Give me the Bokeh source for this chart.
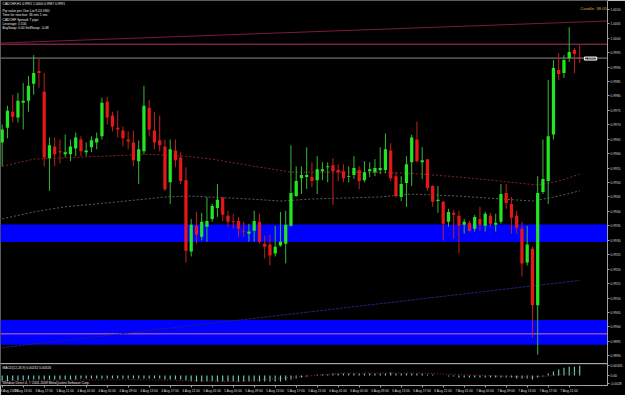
from bokeh.plotting import figure
from bokeh.models import (Range1d, FixedTicker, Span, BoxAnnotation, Label,
                          ColumnDataSource, PrintfTickFormatter)
from bokeh.embed import file_html
from bokeh.resources import INLINE

# ---------------- data (CADCHF, H1, 3 Aug 09:00 .. 7 Aug 23:00 2009) ----------------
opens = [0.99639, 0.99690, 0.99745, 0.99725, 0.99776, 0.99783, 0.99842, 0.99886, 0.99814, 0.99584,
         0.99625, 0.99608, 0.99598, 0.99598, 0.99618, 0.99649, 0.99605, 0.99622, 0.99639, 0.99660,
         0.99780, 0.99732, 0.99690, 0.99680, 0.99649, 0.99639, 0.99574, 0.99608, 0.99759, 0.99680,
         0.99646, 0.99625, 0.99501, 0.99611, 0.99587, 0.99508, 0.99261, 0.99350, 0.99312, 0.99347,
         0.99374, 0.99412, 0.99447, 0.99385, 0.99367, 0.99367, 0.99333, 0.99323, 0.99333, 0.99364,
         0.99288, 0.99285, 0.99254, 0.99282, 0.99288, 0.99350, 0.99453, 0.99515, 0.99519, 0.99519,
         0.99508, 0.99539, 0.99553, 0.99560, 0.99543, 0.99539, 0.99519, 0.99526, 0.99543, 0.99508,
         0.99539, 0.99536, 0.99543, 0.99543, 0.99611, 0.99522, 0.99450, 0.99498, 0.99570, 0.99649,
         0.99570, 0.99581, 0.99488, 0.99436, 0.99433, 0.99364, 0.99395, 0.99385, 0.99354, 0.99361,
         0.99340, 0.99374, 0.99350, 0.99385, 0.99354, 0.99364, 0.99464, 0.99426, 0.99385, 0.99340,
         0.99223, 0.99271, 0.99075, 0.99467, 0.99505, 0.99666, 0.99890, 0.99879, 0.99931, 0.99959,
         0.99934]
highs = [0.99701, 0.99766, 0.99804, 0.99811, 0.99845, 0.99869, 0.99941, 0.99931, 0.99879, 0.99656,
         0.99656, 0.99649, 0.99666, 0.99649, 0.99673, 0.99660, 0.99639, 0.99660, 0.99673, 0.99794,
         0.99797, 0.99745, 0.99749, 0.99694, 0.99677, 0.99680, 0.99646, 0.99835, 0.99787, 0.99745,
         0.99732, 0.99649, 0.99649, 0.99649, 0.99605, 0.99553, 0.99374, 0.99398, 0.99395, 0.99450,
         0.99426, 0.99495, 0.99450, 0.99402, 0.99392, 0.99381, 0.99364, 0.99357, 0.99402, 0.99392,
         0.99316, 0.99319, 0.99350, 0.99398, 0.99402, 0.99629, 0.99556, 0.99556, 0.99622, 0.99570,
         0.99591, 0.99570, 0.99570, 0.99584, 0.99563, 0.99563, 0.99556, 0.99591, 0.99556, 0.99574,
         0.99570, 0.99581, 0.99622, 0.99670, 0.99636, 0.99536, 0.99522, 0.99591, 0.99666, 0.99711,
         0.99622, 0.99581, 0.99491, 0.99488, 0.99436, 0.99409, 0.99405, 0.99402, 0.99374, 0.99367,
         0.99388, 0.99416, 0.99398, 0.99395, 0.99392, 0.99495, 0.99495, 0.99450, 0.99402, 0.99364,
         0.99350, 0.99278, 0.99522, 0.99649, 0.99855, 0.99924, 0.99948, 0.99941, 1.00038, 0.99966,
         0.99976]
lows = [0.99556, 0.99653, 0.99708, 0.99708, 0.99684, 0.99745, 0.99804, 0.99828, 0.99556, 0.99471,
        0.99556, 0.99567, 0.99587, 0.99574, 0.99591, 0.99591, 0.99591, 0.99605, 0.99615, 0.99649,
        0.99701, 0.99677, 0.99656, 0.99625, 0.99615, 0.99556, 0.99495, 0.99598, 0.99660, 0.99615,
        0.99608, 0.99471, 0.99426, 0.99553, 0.99495, 0.99223, 0.99244, 0.99288, 0.99299, 0.99295,
        0.99364, 0.99381, 0.99367, 0.99347, 0.99340, 0.99312, 0.99312, 0.99295, 0.99295, 0.99288,
        0.99237, 0.99213, 0.99244, 0.99278, 0.99220, 0.99347, 0.99450, 0.99460, 0.99477, 0.99484,
        0.99460, 0.99508, 0.99501, 0.99422, 0.99505, 0.99501, 0.99501, 0.99512, 0.99477, 0.99501,
        0.99519, 0.99522, 0.99529, 0.99532, 0.99505, 0.99447, 0.99436, 0.99416, 0.99488, 0.99570,
        0.99512, 0.99471, 0.99416, 0.99395, 0.99299, 0.99347, 0.99306, 0.99254, 0.99323, 0.99330,
        0.99330, 0.99333, 0.99330, 0.99347, 0.99330, 0.99357, 0.99409, 0.99323, 0.99323, 0.99175,
        0.99213, 0.98962, 0.98904, 0.99460, 0.99426, 0.99649, 0.99855, 0.99862, 0.99917, 0.99879,
        0.99914]
closes = [0.99684, 0.99749, 0.99728, 0.99783, 0.99783, 0.99835, 0.99879, 0.99879, 0.99587, 0.99629,
          0.99598, 0.99605, 0.99605, 0.99625, 0.99656, 0.99608, 0.99611, 0.99646, 0.99653, 0.99776,
          0.99725, 0.99694, 0.99684, 0.99653, 0.99642, 0.99577, 0.99615, 0.99766, 0.99684, 0.99639,
          0.99629, 0.99477, 0.99615, 0.99577, 0.99505, 0.99264, 0.99354, 0.99319, 0.99364, 0.99367,
          0.99419, 0.99440, 0.99388, 0.99364, 0.99364, 0.99340, 0.99330, 0.99330, 0.99367, 0.99295,
          0.99278, 0.99247, 0.99278, 0.99295, 0.99354, 0.99464, 0.99505, 0.99526, 0.99526, 0.99505,
          0.99546, 0.99546, 0.99556, 0.99539, 0.99536, 0.99515, 0.99522, 0.99550, 0.99505, 0.99536,
          0.99546, 0.99550, 0.99550, 0.99615, 0.99515, 0.99453, 0.99495, 0.99563, 0.99656, 0.99574,
          0.99577, 0.99481, 0.99433, 0.99440, 0.99357, 0.99398, 0.99388, 0.99350, 0.99364, 0.99333,
          0.99381, 0.99354, 0.99392, 0.99357, 0.99361, 0.99460, 0.99429, 0.99378, 0.99343, 0.99220,
          0.99285, 0.99075, 0.99464, 0.99512, 0.99660, 0.99897, 0.99876, 0.99924, 0.99952, 0.99945,
          0.99931]

# MACD(12,26,9) main values (histogram) per bar
macd = [-0.0018, -0.0018, -0.0015, -0.0015, -0.0015, -0.0012, -0.0012, -0.0012,
        -0.0012, -0.0012, -0.0012, -0.0012, -0.0012, -0.0012, -0.0012, -0.0009, -0.0009, -0.0009, -0.0009, -0.0009, -0.0009,
        -0.0009, -0.0009, -0.0009, -0.0009, -0.0009, -0.0009, -0.0009, -0.0009, -0.0009, -0.0009, -0.0012, -0.0012, -0.0012,
        -0.0012, -0.0015, -0.0018, -0.0018, -0.0018, -0.0018, -0.0018, -0.0018, -0.0018, -0.0018, -0.0018, -0.0018,
        -0.0018, -0.0018, -0.0018, -0.0018, -0.0018, -0.0018, -0.0018, -0.0018, -0.0015,
        -0.0012, -0.0009, -0.0006, -0.0003, 0.0000, 0.0003, 0.0003, 0.0003, 0.0006, 0.0006,
        0.0006, 0.0006, 0.0006, 0.0006, 0.0006, 0.0006, 0.0006, 0.0006, 0.0006, 0.0009, 0.0006,
        0.0006, 0.0006, 0.0006, 0.0006, 0.0006, 0.0003, 0.0003, 0.0000, 0.0000, -0.0003,
        -0.0003, -0.0006, -0.0006, -0.0006, -0.0006, -0.0006, -0.0006, -0.0006, -0.0006, -0.0006, -0.0006,
        -0.0006, -0.0009, -0.0009, -0.0009, -0.0012,
        -0.0006, -0.0003, 0.0006, 0.0012, 0.0018, 0.0024, 0.0027, 0.0027, 0.0030]
# MACD signal line (read at a few bars)
signal_x = [0, 25, 45, 57, 65, 80, 92, 101, 105, 110]
signal_y = [-0.0015, -0.0012, -0.0018, -0.0003, 0.00075, 0.00075, 0.0000, -0.00045, 0.0000, 0.0012]

# moving averages (dotted), read at a few bars
ma_fast_x = [0, 6, 19, 28, 35, 40, 48, 55, 68, 78, 87, 97, 102, 106, 110]
ma_fast_y = [0.99556, 0.99581, 0.99591, 0.99598, 0.99591, 0.99581, 0.99556, 0.99536, 0.99536,
             0.99532, 0.99519, 0.99501, 0.99491, 0.99505, 0.99529]
ma_slow_x = [0, 6, 12, 22, 31, 36, 47, 53, 59, 72, 78, 87, 95, 101, 106, 110]
ma_slow_y = [0.99374, 0.99398, 0.99416, 0.99433, 0.99450, 0.99453, 0.99443, 0.99436, 0.99443,
             0.99450, 0.99460, 0.99453, 0.99443, 0.99436, 0.99453, 0.99471]
ma_long_x = [0, 68, 110]
ma_long_y = [0.98928, 0.99072, 0.99161]

# trend line and horizontal levels
trend_x = [-0.3, 116.2]
trend_y = [0.99983, 1.00060]
level_top = 0.99979
level_low = 0.98976
zone_tops = [0.99355, 0.99024]
zone_bottoms = [0.99294, 0.98938]

price_ticks = [0.9890, 0.9895, 0.9900, 0.9905, 0.9910, 0.9915, 0.9920, 0.9925, 0.9930, 0.9935,
               0.9940, 0.9945, 0.9950, 0.9955, 0.9960, 0.9965, 0.9970, 0.9975, 0.9980, 0.9985,
               0.9990, 0.9995, 1.0000, 1.0005, 1.0010]
time_ticks = [0, 4, 8, 12, 16, 20, 24, 28, 32, 36, 40, 44, 48, 52, 56, 60, 64, 68, 72, 76,
              80, 84, 88, 92, 96, 100, 104, 108]
time_labels = ["3 Aug 2009", "3 Aug 13:00", "3 Aug 17:00", "3 Aug 21:00", "4 Aug 01:00", "4 Aug 05:00",
               "4 Aug 09:00", "4 Aug 13:00", "4 Aug 17:00", "4 Aug 21:00", "5 Aug 01:00", "5 Aug 05:00",
               "5 Aug 09:00", "5 Aug 13:00", "5 Aug 17:00", "5 Aug 21:00", "6 Aug 01:00", "6 Aug 05:00",
               "6 Aug 09:00", "6 Aug 13:00", "6 Aug 17:00", "6 Aug 21:00", "7 Aug 01:00", "7 Aug 05:00",
               "7 Aug 09:00", "7 Aug 13:00", "7 Aug 17:00", "7 Aug 21:00"]
macd_ticks = [0.0030, 0.0, -0.0024]
macd_tick_labels = ["0.00326", "0.00", "-0.0028"]

info_lines = ["CADCHF,H1  0.9992 1.0000 0.9987 0.9991",
              "Pip value per One Lot 9.24 USD",
              "Time for new bar: 36 min 1 sec",
              "CADCHF Spread: 7 pips",
              "Leverage: 1:100",
              "BuySwap: 0.00   SellSwap: -0.48"]

# ---------------- layout constants ----------------
W, H = 625, 395
FW, FH = 607, 388          # expected frame size
BAR_PX = 5.25              # pixels per bar
X0 = -1.7 / BAR_PX
X1 = X0 + FW / BAR_PX
PRICE_PER_PX = 0.0005 / 14.55
Y_TOP = 1.001304
MACD_PER_PX = 0.0003
MACD_ZERO_PX = 378

y_bottom = Y_TOP - FH * PRICE_PER_PX
p = figure(width=W, height=H, output_backend="svg", toolbar_location=None,
           x_range=Range1d(X0, X1), y_range=Range1d(y_bottom, Y_TOP),
           y_axis_location="right", background_fill_color="black",
           border_fill_color="black", min_border=0, outline_line_color="#5a5a5a")
p.extra_y_ranges = {"macd": Range1d(-(FH - MACD_ZERO_PX) * MACD_PER_PX, MACD_ZERO_PX * MACD_PER_PX)}
p.grid.visible = False

def macd_to_price(m):
    ypx = MACD_ZERO_PX - m / MACD_PER_PX
    return Y_TOP - ypx * PRICE_PER_PX

def px_to_price(ypx):
    return Y_TOP - ypx * PRICE_PER_PX

# axes
ya = p.yaxis[0]
mt_prices = [macd_to_price(m) for m in macd_ticks]
ya.ticker = FixedTicker(ticks=price_ticks + mt_prices)
ya.formatter = PrintfTickFormatter(format="%.4f")
ya.major_label_overrides = {mp: lbl for mp, lbl in zip(mt_prices, macd_tick_labels)}
ya.major_label_text_font_size = "3.3px"
ya.major_label_text_color = "#d8d8d8"
ya.major_label_text_font = "Liberation Sans"
ya.major_label_standoff = 1
ya.major_tick_out = 2
ya.major_tick_in = 0
ya.minor_tick_out = 0
ya.minor_tick_in = 0
ya.major_tick_line_color = "#a0a0a0"
ya.axis_line_color = "#a0a0a0"

xa = p.xaxis[0]
xa.ticker = FixedTicker(ticks=time_ticks)
xa.major_label_overrides = {t: l for t, l in zip(time_ticks, time_labels)}
xa.major_label_text_font_size = "3.3px"
xa.major_label_text_color = "#d8d8d8"
xa.major_label_text_font = "Liberation Sans"
xa.major_label_text_align = "left"
xa.major_label_standoff = 1
xa.major_tick_out = 2
xa.major_tick_in = 0
xa.minor_tick_out = 0
xa.minor_tick_in = 0
xa.major_tick_line_color = "#a0a0a0"
xa.axis_line_color = "#a0a0a0"

# zones
for t, b in zip(zone_tops, zone_bottoms):
    p.add_layout(BoxAnnotation(top=t, bottom=b, fill_color="#0000ff", fill_alpha=1.0,
                               line_color=None, level="underlay"))

# horizontal levels
p.add_layout(Span(location=level_top, dimension="width", line_color="#b03070", line_width=1, level="underlay"))
p.add_layout(Span(location=closes[-1], dimension="width", line_color="#8a8a8a", line_width=1, level="underlay"))
p.add_layout(Span(location=level_low, dimension="width", line_color="#d070a0", line_width=1, level="underlay"))
p.add_layout(Span(location=(MACD_ZERO_PX - 366) * MACD_PER_PX, dimension="width", y_range_name="macd",
                  line_color="#c8c8c8", line_width=1))

# trend line and MAs
p.line(trend_x, trend_y, line_color="#7a1c3c", line_width=1)
p.line(ma_fast_x, ma_fast_y, line_color="#8a2020", line_width=1, line_dash="2 2")
p.line(ma_slow_x, ma_slow_y, line_color="#5a6058", line_width=1, line_dash="2 2")
p.line(ma_long_x, ma_long_y, line_color="#202078", line_width=1, line_dash="3 1")

# candles
idx = list(range(len(opens)))
up = [c >= o for o, c in zip(opens, closes)]
src = ColumnDataSource(dict(
    x=idx, h=highs, l=lows,
    bt=[max(o, c) for o, c in zip(opens, closes)],
    bb=[min(o, c) for o, c in zip(opens, closes)],
    bc=["#22e622" if u else "#e41818" for u in up],
    wc=["#38b838" if u else "#c02020" for u in up]))
p.segment(x0="x", y0="l", x1="x", y1="h", source=src, line_color="wc", line_width=1)
p.vbar(x="x", top="bt", bottom="bb", width=0.62, source=src, fill_color="bc", line_color=None)

# MACD pane
p.vbar(x=idx, top=macd, bottom=0, width=0.22, y_range_name="macd",
       fill_color="#62d0c0", line_color=None)
p.line(signal_x, signal_y, y_range_name="macd", line_color="#b02020", line_width=1, line_dash="1 2")

# texts
def lab(x, ypx, text, size, color, x_units="screen", **kw):
    p.add_layout(Label(x=x, y=px_to_price(ypx), x_units=x_units, y_units="data", text=text,
                       text_font_size=size, text_color=color, text_font="Liberation Sans",
                       text_baseline="middle", **kw))

for ypx, line in zip([3.6, 10.3, 14.7, 19.0, 23.3, 27.4], info_lines):
    lab(2, ypx, line, "3.3px", "#e8e8e8")
lab(X1 - 0.1, 8, "Candle: 38:05", "4.3px", "#d9a441", x_units="data", text_align="right")
lab(X1 - 4.4, 58.5, "0.9991", "4px", "#ffffff", x_units="data", background_fill_color="#000000",
    border_line_color="#ffffff", border_line_width=1)
lab(2, 370.5, "MACD(12,26,9) 0.00232 0.00326", "3.3px", "#e8e8e8")
lab(2, 385.0, "Windsor Direct 4, \u00a9 2001-2009 MetaQuotes Software Corp.", "3.3px", "#e8e8e8")
lab(X1 + 0.25, 44, "0.9998", "3.3px", "#ffffff", x_units="data", background_fill_color="#ff3c9c")
lab(X1 + 0.25, 58, "0.9991", "3.3px", "#000000", x_units="data", background_fill_color="#ffffff")
lab(X1 + 0.25, 334, "0.9898", "3.3px", "#ffffff", x_units="data", background_fill_color="#ff3c9c")

open("out.html", "w").write(file_html(p, INLINE))
